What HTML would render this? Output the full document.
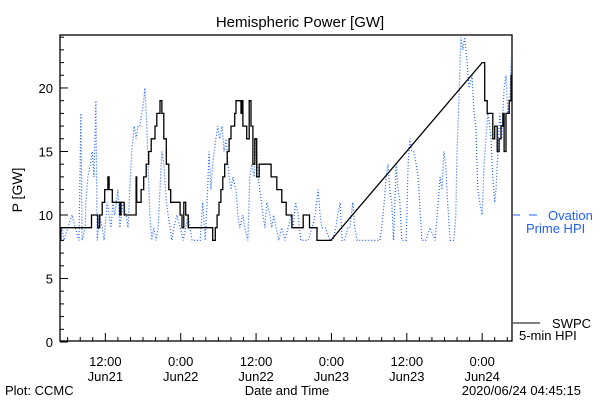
<!DOCTYPE html>
<html><head><meta charset="utf-8"><style>
html,body{margin:0;padding:0;background:#fff;}
svg{display:block;font-family:"Liberation Sans",sans-serif;}
</style></head><body>
<svg id="chart" width="600" height="400" viewBox="0 0 600 400">
<rect x="0" y="0" width="600" height="400" fill="#fff"/>
<text x="300" y="27" font-size="15" text-anchor="middle">Hemispheric Power [GW]</text>
<text transform="translate(22,190) rotate(-90)" font-size="14" text-anchor="middle">P [GW]</text>
<text x="5" y="395" font-size="13">Plot: CCMC</text>
<text x="287" y="395" font-size="13" text-anchor="middle">Date and Time</text>
<text x="581" y="395" font-size="13" text-anchor="end">2020/06/24 04:45:15</text>
<g id="axes"></g>
<g id="series"></g>
<g>
<line x1="513" y1="215" x2="520" y2="215" stroke="#1f5fff" stroke-width="1"/>
<line x1="529" y1="215" x2="537" y2="215" stroke="#1f5fff" stroke-width="1"/>
<text x="548" y="220" font-size="13" fill="#1f5fff">Ovation</text>
<text x="526" y="233" font-size="13" fill="#1f5fff">Prime HPI</text>
<line x1="513" y1="323" x2="540" y2="323" stroke="#000" stroke-width="1"/>
<text x="552" y="328" font-size="13">SWPC</text>
<text x="519" y="340" font-size="13">5-min HPI</text>
</g>
</svg>
<script>
// hours since Jun21 00:00
const blueT=[4.8,5.1,5.4,6.0,6.7,7.2,7.8,8.1,8.3,8.8,8.9,9.2,9.6,9.9,10.2,10.5,10.7,11.1,11.5,11.8,12.3,12.6,12.9,13.2,13.5,14.0,14.3,14.8,15.3,15.6,15.9,16.2,16.6,16.9,17.2,17.5,17.8,18.1,18.3,18.6,18.8,19.1,19.4,19.7,20.1,20.4,20.7,21.0,21.3,21.7,22.0,22.3,22.6,22.9,23.4,23.9,24.4,24.8,25.2,25.8,26.4,27.1,27.5,27.9,28.2,28.5,28.8,29.1,29.6,29.9,30.2,30.6,30.9,31.2,31.7,32.0,32.3,32.8,33.1,33.4,33.9,34.2,34.7,35.0,35.3,35.7,36.0,36.3,36.6,37.1,37.4,37.7,38.2,38.5,38.8,39.2,39.6,40.1,40.6,41.1,41.6,41.9,42.3,42.7,43.1,43.6,44.3,44.9,45.4,45.9,46.2,46.5,47.0,47.8,48.2,48.7,49.0,49.4,49.7,50.1,50.6,50.9,51.4,51.7,52.1,52.5,53.3,54.1,54.9,55.4,55.7,56.0,56.4,56.7,57.0,57.3,57.6,57.9,58.3,58.6,58.9,59.2,59.5,59.9,60.2,60.5,60.8,61.1,61.5,61.8,62.4,63.0,63.7,64.5,65.0,65.3,65.6,65.9,66.2,66.5,66.9,67.2,67.5,67.8,68.0,68.3,68.6,68.9,69.2,69.6,69.9,70.4,70.7,71.0,71.3,71.6,72.0,72.3,72.6,72.9,73.2,73.4,73.7,74.0,74.2,74.5,74.8,75.1,75.5,75.8,76.1,76.4,76.7];
const blueV=[8,9,8,9,10,9,8,18,8,9,11,13,14,15,13,19,8,10,9,8,11,10,9,11,10,12,9,11,10,9,12,15,17,16,17,17,18,19,20,17,14,10,8,9,8,9,12,15,14,11,10,9,8,9,10,9,8,9,10,8,8,8,11,8,11,15,12,14,16,17,16,17,15,16,13,12,13,12,10,9,10,9,8,13,14,13,16,13,12,10,9,11,10,9,10,9,8,9,8,9,10,9,11,10,8,8,8,9,10,12,10,9,9,8,8,9,10,11,8,8,9,9,11,9,8,8,8,8,8,8,8,9,11,13,14,12,11,8,14,12,11,8,8,8,14,16,15,15,14,13,8,8,9,8,11,13,12,15,14,11,8,8,8,10,15,19,24,23,24,22,20,21,18,17,12,11,10,14,16,18,17,16,13,11,12,15,18,16,20,21,18,19,23];
const blackT=[4.8,4.9,9.8,10.8,11.1,11.5,11.9,12.4,12.6,13.1,14.3,14.5,15.0,16.9,17.0,17.7,18.1,18.5,18.9,19.3,19.9,20.2,20.7,21.0,21.3,21.7,22.1,22.4,23.9,24.2,24.5,24.8,25.2,29.1,29.5,29.8,30.1,30.4,30.7,31.0,31.4,31.7,32.0,32.6,32.8,33.6,33.7,33.9,34.5,34.9,35.2,35.5,35.8,36.1,36.5,38.4,39.3,40.1,40.8,41.7,43.5,44.5,45.7,47.9,72.0,72.4,72.8,73.7,74.0,74.4,74.7,75.0,75.3,75.5,75.8,76.3,76.6,76.8];
const blackV=[8,9,10,9,10,11,12,13,12,11,10,11,10,13,11,12,13,14,15,16,17,18,19,18,16,14,12,11,10,9,11,10,9,8,9,10,11,12,13,14,15,16,17,18,19,18,19,17,16,19,17,14,16,13,14,13,12,11,10,9,10,9,8,8,22,19,18,16,17,15,16,17,18,15,18,19,21,21];
const yTickLabels=["0","5","10","15","20"];
const yTickVals=[0,5,10,15,20];
const xTickHours=[12,24,36,48,60,72];
const xTickTime=["12:00","0:00","12:00","0:00","12:00","0:00"];
const xTickDate=["Jun21","Jun22","Jun22","Jun23","Jun23","Jun24"];

const L=60,R=512,T=35,B=341;
const tMin=4.78,tMax=76.75,vMin=0.08,vMax=24.17;
const X=t=>L+(t-tMin)/(tMax-tMin)*(R-L);
const Y=v=>B-(v-vMin)/(vMax-vMin)*(B-T);
const NS="http://www.w3.org/2000/svg";
function mk(tag,attrs,parent){const e=document.createElementNS(NS,tag);for(const k in attrs)e.setAttribute(k,attrs[k]);parent.appendChild(e);return e;}
const ax=document.getElementById('axes');
const frame=mk('rect',{x:L,y:T,width:R-L,height:B-T,fill:'none',stroke:'#000','stroke-width':1.3},ax);


for(let v=0;v<=24;v++){
  const len=(v%5===0)?8:4;
  const tk=mk('line',{x1:L,y1:Y(v),x2:L+len,y2:Y(v),stroke:'#000'},ax);
  
  
}
yTickVals.forEach((v,i)=>{
  const t=mk('text',{x:53,y:Y(v)+5,'font-size':13,'text-anchor':'end'},ax);
  t.textContent=yTickLabels[i];
  
  
});
for(let h=6;h<=76;h+=2){
  const len=(h%12===0)?8:4;
  const tk=mk('line',{x1:X(h),y1:B,x2:X(h),y2:B-len,stroke:'#000'},ax);
  
  
}
xTickHours.forEach((h,i)=>{
  const a=mk('text',{x:X(h),y:366,'font-size':13,'text-anchor':'middle'},ax);
  a.textContent=xTickTime[i];
  
  
  const b=mk('text',{x:X(h),y:381,'font-size':13,'text-anchor':'middle'},ax);
  b.textContent=xTickDate[i];
  
  
});
const sg=document.getElementById('series');
let bp=blueT.map((t,i)=>X(t).toFixed(1)+','+Y(blueV[i]).toFixed(1)).join(' ');
const blue=mk('polyline',{points:bp,fill:'none',stroke:'#1f5fff','stroke-width':1.2,'stroke-dasharray':'1 2'},sg);


let pts=[];
for(let i=0;i<blackT.length;i++){
  pts.push([X(blackT[i]),Y(blackV[i])]);
  if(i<blackT.length-1 && blackT[i+1]-blackT[i]<10){
    pts.push([X(blackT[i+1]),Y(blackV[i])]);
  }
}
const black=mk('polyline',{points:pts.map(p=>p[0].toFixed(1)+','+p[1].toFixed(1)).join(' '),fill:'none',stroke:'#000','stroke-width':1.3},sg);


</script>
</body></html>
